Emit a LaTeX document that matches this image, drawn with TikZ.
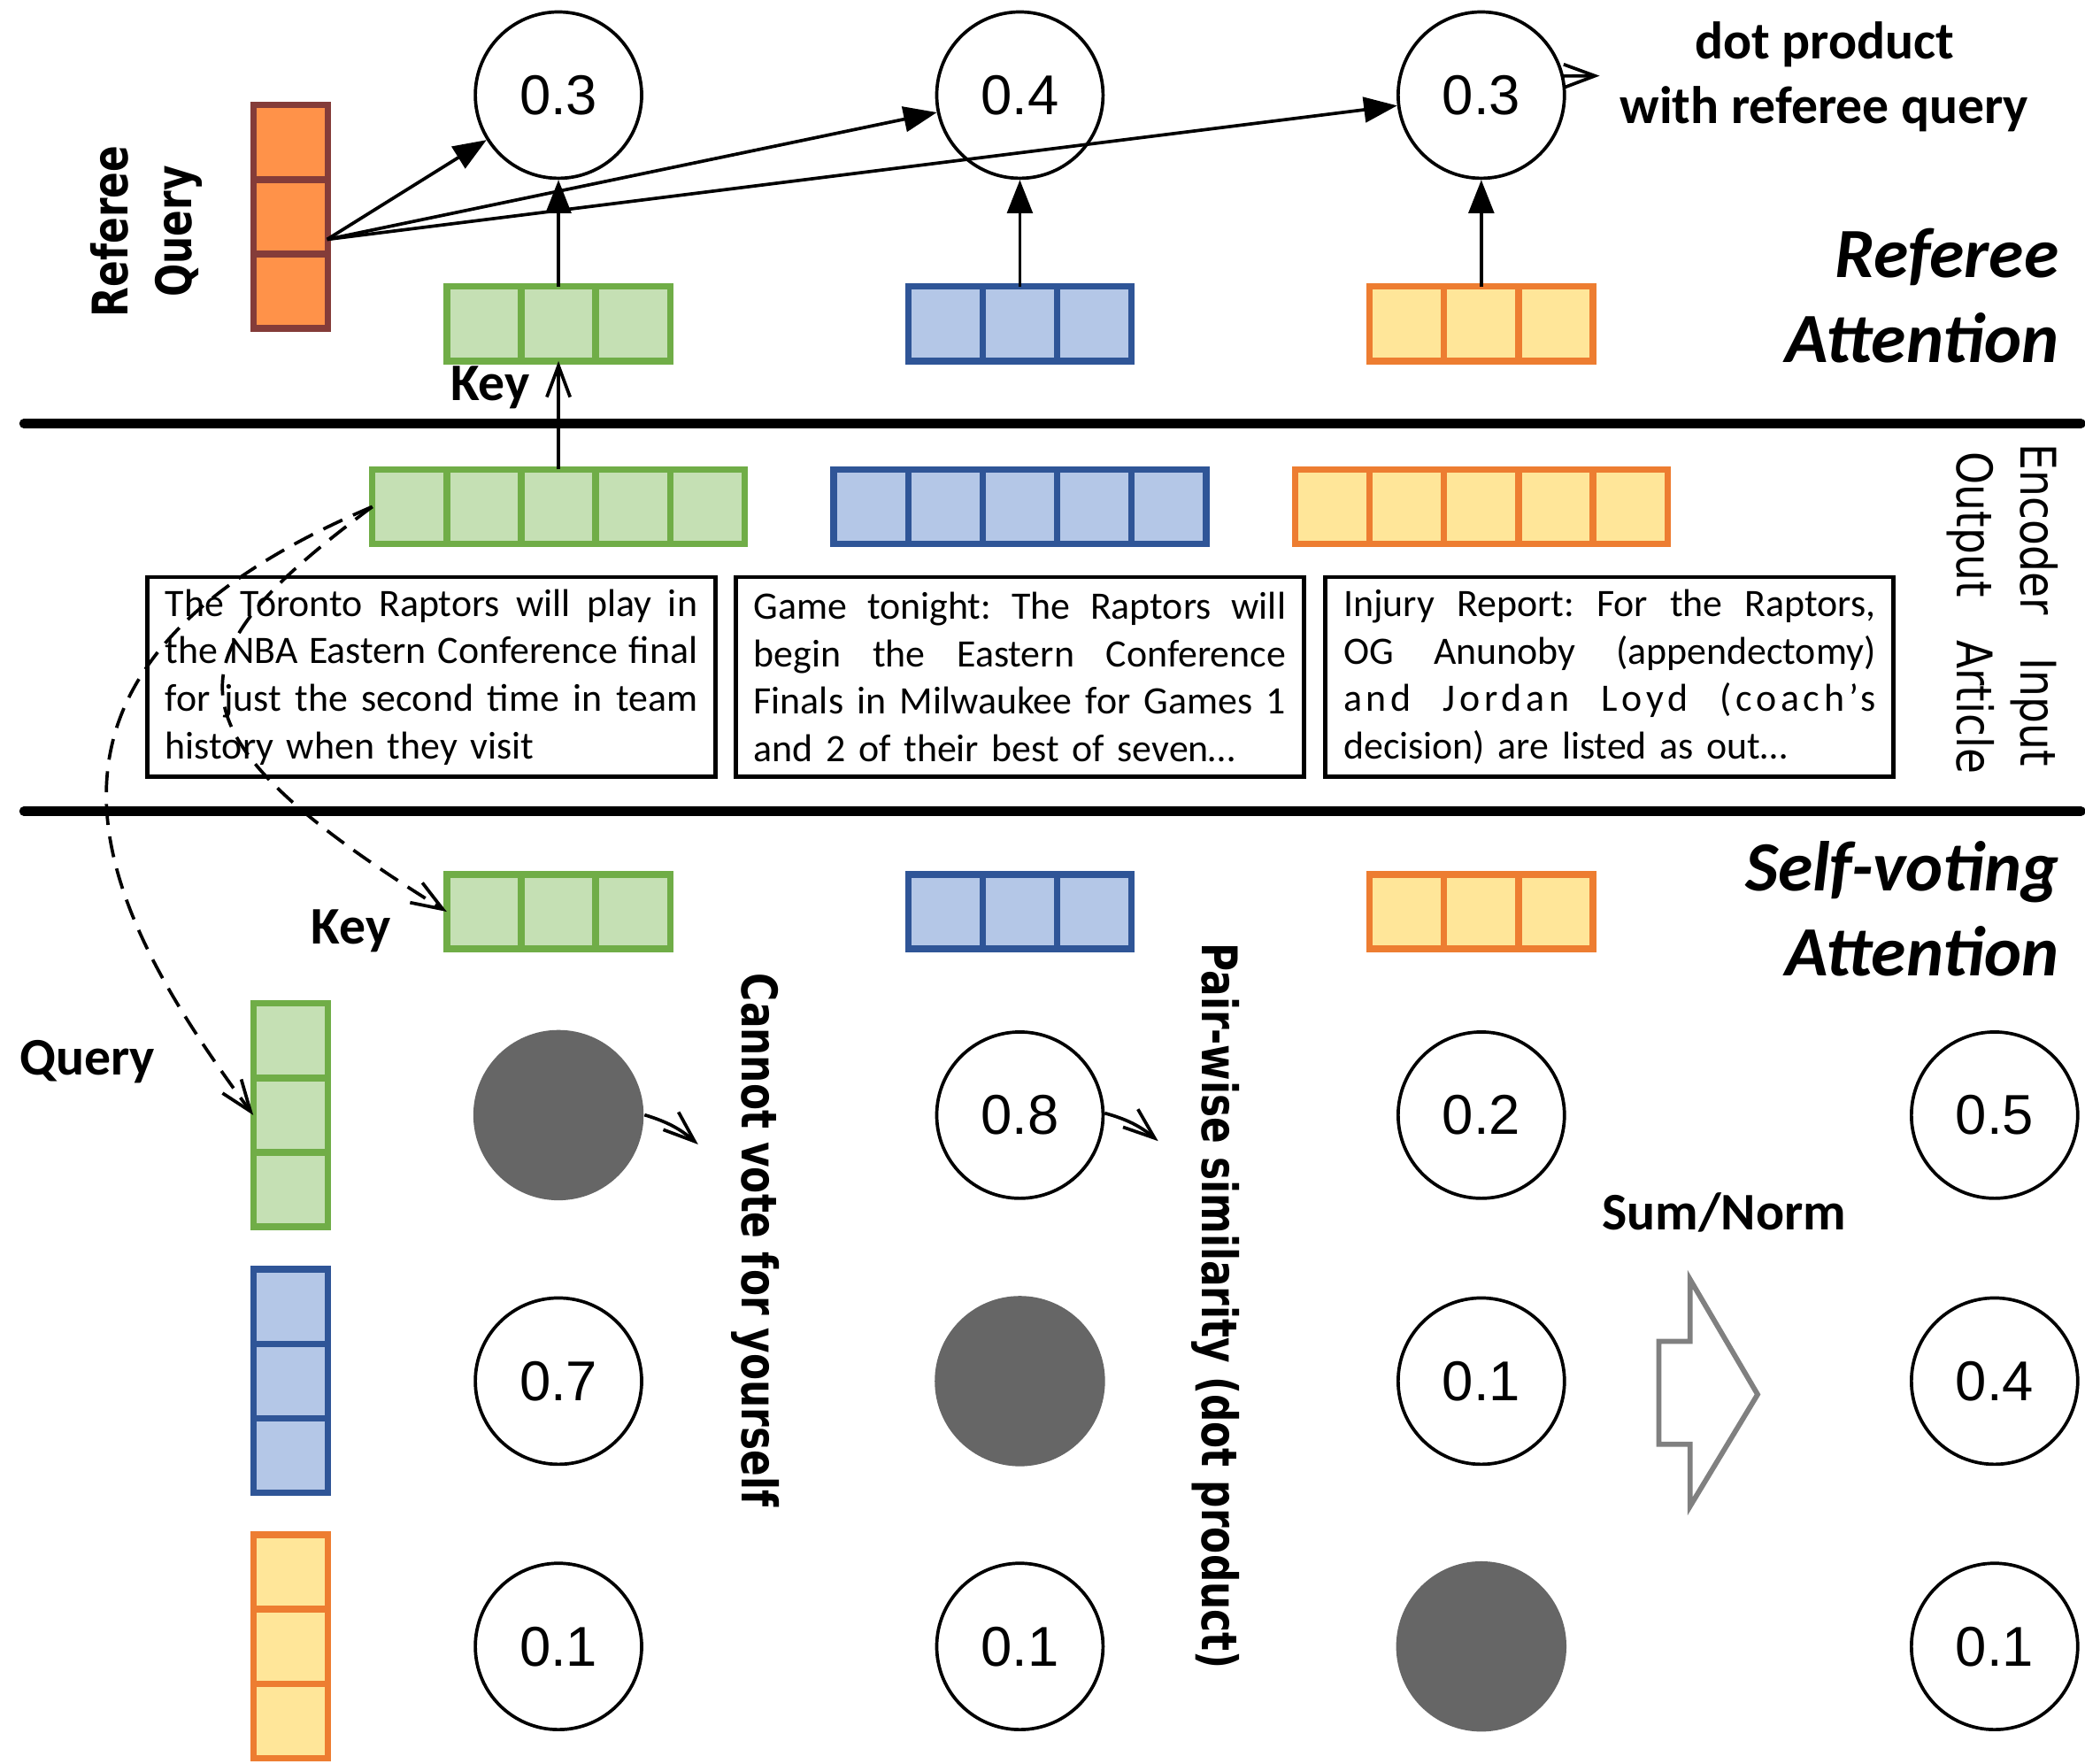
\documentclass[tikz,border=0pt]{standalone}
\usepackage{fontspec}
\setmainfont{Carlito}
\newfontfamily\numfont{Liberation Sans}
\newfontfamily\narrowfont[FakeStretch=0.79]{DejaVu Sans}
\newfontfamily\encfont[FakeStretch=0.85]{DejaVu Sans}
\usetikzlibrary{arrows.meta}

\definecolor{keygreen}{HTML}{70AD47}
\definecolor{keygreenfill}{HTML}{C5E0B4}
\definecolor{keyblue}{HTML}{2F5597}
\definecolor{keybluefill}{HTML}{B4C7E7}
\definecolor{keyorange}{HTML}{ED7D31}
\definecolor{keyyellowfill}{HTML}{FFE699}
\definecolor{refbrown}{HTML}{843C39}
\definecolor{reforange}{HTML}{FF9249}
\definecolor{maskgray}{HTML}{666666}
\definecolor{blockgray}{HTML}{808080}

\newcommand{\jline}[1]{\leavevmode\hbox to 4cm{\frenchspacing\spaceskip=0.226em plus 1fil minus 0.08em\xspaceskip=\spaceskip\relax #1}}

\begin{document}
\begin{tikzpicture}[x=0.01cm, y=-0.01cm,
		cell/.style={draw, line width=1.4pt, minimum size=0.56cm, inner sep=0pt, outer sep=0pt},
		gcell/.style={cell, draw=keygreen, fill=keygreenfill},
		bcell/.style={cell, draw=keyblue, fill=keybluefill},
		ycell/.style={cell, draw=keyorange, fill=keyyellowfill},
		rcell/.style={cell, draw=refbrown, fill=reforange},
		score/.style={circle, draw, line width=0.7pt, minimum size=1.25cm, inner sep=0pt, font=\numfont\fontsize{12pt}{14pt}\selectfont},
		masked/.style={circle, fill=maskgray, minimum size=1.28cm, inner sep=0pt},
		article/.style={draw, line width=0.9pt, text width=4cm, inner xsep=0.135cm, inner ysep=0pt, minimum height=1.5cm, align=left, font=\fontsize{8.3pt}{0.357cm}\selectfont},
		lbl/.style={font=\bfseries\fontsize{11.3pt}{13.6pt}\selectfont, inner sep=0pt},
		sectiontitle/.style={font=\bfseries\itshape\fontsize{15.1pt}{18pt}\selectfont, inner sep=0pt},
		sidetext/.style={font=\narrowfont\bfseries\fontsize{10.5pt}{12.6pt}\selectfont, inner sep=0pt},
		enctext/.style={font=\encfont\fontsize{10.5pt}{12.6pt}\selectfont, inner sep=0pt},
		headarrow/.style={line width=0.7pt, -{Triangle[length=0.25cm, width=0.19cm]}},
		barbarrow/.style={line width=0.7pt, -{Straight Barb[length=0.235cm, width=0.175cm]}},
		dashcurve/.style={line width=0.7pt, dash pattern=on 4.5pt off 2.5pt, -{Straight Barb[length=0.235cm, width=0.175cm]}},
		separator/.style={line width=2pt, line cap=round}]

		\useasboundingbox (0,0) rectangle (1568,1326);

		\foreach \i in {1,2,3} {
			\node[rcell] (rq\i) at (218.5,{107+(\i-1)*56}) {};
		}
		\foreach \col/\sty/\cx in {A/gcell/420,B/bcell/767,C/ycell/1114} {
			\foreach \i in {1,2,3} {
				\node[\sty] (rk\col\i) at ({\cx+(\i-2)*56},243.5) {};
				\node[\sty] (sk\col\i) at ({\cx+(\i-2)*56},685.5) {};
			}
			\foreach \i in {1,...,5} {
				\node[\sty] (enc\col\i) at ({\cx+(\i-3)*56},381) {};
			}
		}
		\foreach \col/\sty/\cy in {A/gcell/838.5,B/bcell/1038.5,C/ycell/1238} {
			\foreach \i in {1,2,3} {
				\node[\sty] (sq\col\i) at (218.5,{\cy+(\i-2)*56}) {};
			}
		}

		\node[score] (rA) at (420,71.5) {0.3};
		\node[score] (rB) at (767,71.5) {0.4};
		\node[score] (rC) at (1114,71.5) {0.3};

		\node[masked] (v11) at (420,838.5) {};
		\node[score] (v12) at (767,838.5) {0.8};
		\node[score] (v13) at (1114,838.5) {0.2};
		\node[score] (v21) at (420,1038.5) {0.7};
		\node[masked] (v22) at (767,1038.5) {};
		\node[score] (v23) at (1114,1038.5) {0.1};
		\node[score] (v31) at (420,1238) {0.1};
		\node[score] (v32) at (767,1238) {0.1};
		\node[masked] (v33) at (1114,1238) {};
		\node[score] (s1) at (1500,838.5) {0.5};
		\node[score] (s2) at (1500,1038.5) {0.4};
		\node[score] (s3) at (1500,1238) {0.1};

		\node[article] (artA) at (324.5,509) {\jline{The Toronto Raptors will play in}\\\jline{the NBA Eastern Conference final}\\\jline{for just the second time in team}\\history when they visit};
		\node[article] (artB) at (767,509) {\jline{Game tonight: The Raptors will}\\\jline{begin the Eastern Conference}\\\jline{Finals in Milwaukee for Games 1}\\and 2 of their best of seven\dots};
		\node[article] (artC) at (1210.5,509) {\jline{Injury Report: For the Raptors,}\\\jline{OG Anunoby (appendectomy)}\\\jline{\addfontfeature{LetterSpace=11}and Jordan Loyd (coach’s}\\decision) are listed as out\dots};

		\node[lbl, anchor=base] (keytop) at (368.5,301) {Key};
		\node[lbl, anchor=base] (keyself) at (264,709.5) {Key};
		\node[lbl, anchor=base] (querylbl) at (65.7,808.6) {Query};
		\node[lbl, anchor=base] (sumnorm) at (1296.5,925) {Sum/Norm};
		\node[lbl, anchor=base] (dp1) at (1372,44.4) {dot product};
		\node[lbl, anchor=base] (dp2) at (1372,93) {with referee query};

		\node[sectiontitle, anchor=base east] (ref1) at (1549,208.6) {Referee};
		\node[sectiontitle, anchor=base east] (ref2) at (1549,272.5) {Attention};
		\node[sectiontitle, anchor=base east] (sv1) at (1549,670) {Self-voting};
		\node[sectiontitle, anchor=base east] (sv2) at (1549,734) {Attention};

		\node[sidetext, rotate=90, anchor=base] (rqlbl1) at (96,174) {Referee};
		\node[sidetext, rotate=90, anchor=base] (rqlbl2) at (144,174) {Query};
		\node[sidetext, rotate=-90, anchor=base] (cvlbl) at (558,932.5) {Cannot vote for yourself};
		\node[sidetext, rotate=-90, anchor=base] (pwlbl) at (904,982) {Pair-wise similarity (dot product)};
		\node[enctext, rotate=-90, anchor=base] (enclbl1) at (1520,455) {\makebox[2.42cm][s]{Encoder Input}};
		\node[enctext, rotate=-90, anchor=base] (enclbl2) at (1472,461) {\makebox[2.42cm][s]{Output Article}};

		\draw[blockgray, line width=1.1pt, line join=miter] (1247.6,1008.6) -- (1271,1008.6) -- (1271,962) -- (1321.8,1048.5) -- (1271,1132.6) -- (1271,1086) -- (1247.6,1086) -- cycle;

		\coordinate (rqout) at (246,180);
		\draw[headarrow] (rqout) -- (rA);
		\draw[headarrow] (rqout) -- (rB);
		\draw[headarrow] (rqout) -- (rC);
		\draw[headarrow] (rkA2) -- (rA);
		\draw[headarrow] (rkB2) -- (rB);
		\draw[headarrow] (rkC2) -- (rC);

		\coordinate (dpend) at (1203,57);
		\draw[barbarrow] (rC.13) -- (dpend);
		\draw[barbarrow] (encA3) -- (rkA2);

		\draw[separator] (18,318.5) -- (1565,318.5);
		\draw[separator] (18,610) -- (1565,610);

		\coordinate (cvend) at (525,860.5);
		\coordinate (pwend) at (871,858);
		\draw[barbarrow] (v11) to[bend left=12] (cvend);
		\draw[barbarrow] (v12) to[bend left=12] (pwend);

		\draw[dashcurve] (encA1.west) .. controls (-16.7,507) and (74,681) .. (sqA2.west);
		\draw[dashcurve] (encA1.west) .. controls (128,494) and (115,548) .. (skA1.west);

\end{tikzpicture}
\end{document}
